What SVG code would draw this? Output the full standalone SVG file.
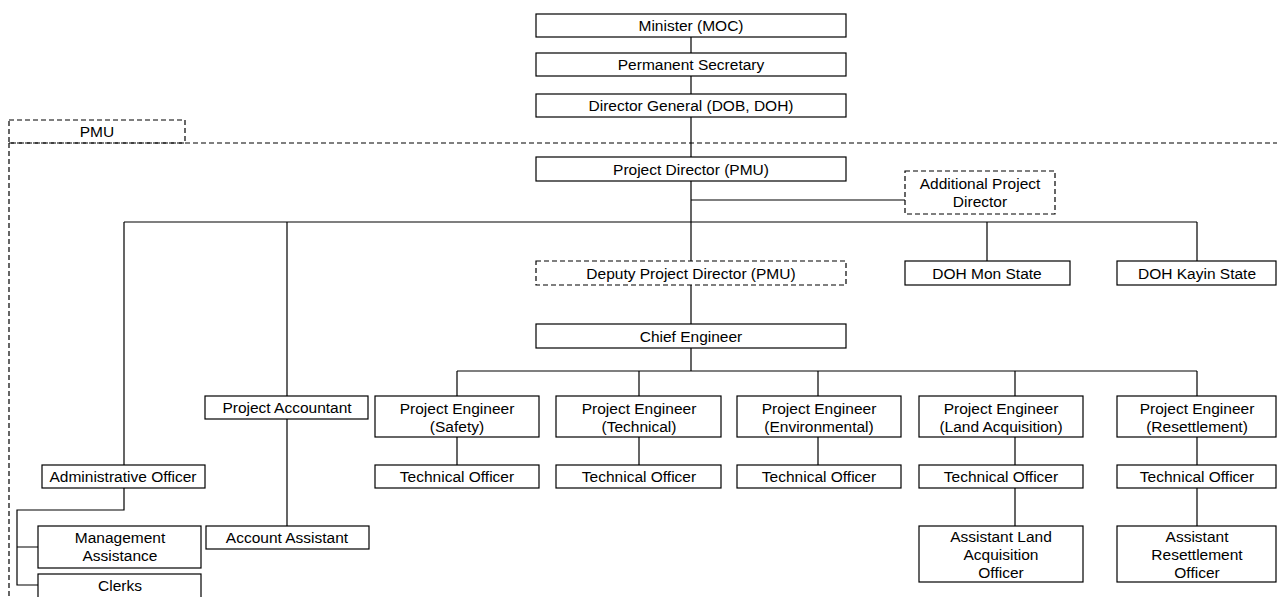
<svg xmlns="http://www.w3.org/2000/svg" width="1277" height="597" viewBox="0 0 1277 597">
<style>
.b{fill:#fff;stroke:#000;stroke-width:1.2}
.d{fill:#fff;stroke:#000;stroke-width:1.2;stroke-dasharray:5,3}
.t{font-family:"Liberation Sans",Arial,sans-serif;font-size:15.5px;fill:#000;text-anchor:middle}
.c{fill:none;stroke:#000;stroke-width:1.2}
.pd{fill:none;stroke:#000;stroke-width:1.2;stroke-dasharray:5,3}
</style>
<rect width="1277" height="597" fill="#fff"/>
<g id="pmu-frame">
<rect class="pd" x="9" y="120" width="176" height="23"/>
<path class="pd" d="M9 143 H1277 M9 143 V597"/>
<text class="t" x="97" y="137">PMU</text>
</g>
<g id="connectors">
<path class="c" d="M691 37 V53 M691 76 V94 M691 117 V157 M691 181 V261 M691 200 H905 M124 222 H1197 M124 222 V465 M287 222 V396 M987 222 V261 M1197 222 V261 M691 285 V324 M691 348 V371 M457 371 H1197 M457 371 V396 M639 371 V396 M818 371 V396 M1015 371 V396 M1197 371 V396 M457 437 V465 M639 437 V465 M818 437 V465 M1015 437 V465 M1197 437 V465 M1015 488 V526 M1197 488 V526 M287 419 V526 M124 488 V510 H17 V585 H38 M17 547 H38"/>
</g>
<g id="minister"><rect class="b" x="536" y="14" width="310" height="23"/><text class="t" x="691" y="31">Minister (MOC)</text></g>
<g id="perm-sec"><rect class="b" x="536" y="53" width="310" height="23"/><text class="t" x="691" y="70">Permanent Secretary</text></g>
<g id="dg"><rect class="b" x="536" y="94" width="310" height="23"/><text class="t" x="691" y="111">Director General (DOB, DOH)</text></g>
<g id="pd"><rect class="b" x="536" y="157" width="310" height="24"/><text class="t" x="691" y="175">Project Director (PMU)</text></g>
<g id="apd"><rect class="d" x="905" y="171" width="150" height="43"/><text class="t" x="980" y="189">Additional Project</text><text class="t" x="980" y="207">Director</text></g>
<g id="dpd"><rect class="d" x="536" y="261" width="310" height="24"/><text class="t" x="691" y="279">Deputy Project Director (PMU)</text></g>
<g id="doh-mon"><rect class="b" x="905" y="261" width="165" height="24"/><text class="t" x="987" y="279">DOH Mon State</text></g>
<g id="doh-kayin"><rect class="b" x="1117" y="261" width="159" height="24"/><text class="t" x="1197" y="279">DOH Kayin State</text></g>
<g id="chief"><rect class="b" x="536" y="324" width="310" height="24"/><text class="t" x="691" y="342">Chief Engineer</text></g>
<g id="pa"><rect class="b" x="205" y="396" width="163" height="23"/><text class="t" x="287" y="413">Project Accountant</text></g>
<g id="aa"><rect class="b" x="206" y="526" width="163" height="23"/><text class="t" x="287" y="543">Account Assistant</text></g>
<g id="ao"><rect class="b" x="42" y="465" width="163" height="23"/><text class="t" x="123" y="482">Administrative Officer</text></g>
<g id="ma"><rect class="b" x="38" y="526" width="163" height="42"/><text class="t" x="120" y="543">Management</text><text class="t" x="120" y="561">Assistance</text></g>
<g id="clerks"><rect class="b" x="38" y="574" width="163" height="30"/><text class="t" x="120" y="591">Clerks</text></g>
<g id="pe-safety"><rect class="b" x="375" y="396" width="164" height="41"/><text class="t" x="457" y="414">Project Engineer</text><text class="t" x="457" y="432">(Safety)</text></g>
<g id="pe-tech"><rect class="b" x="556" y="396" width="165" height="41"/><text class="t" x="639" y="414">Project Engineer</text><text class="t" x="639" y="432">(Technical)</text></g>
<g id="pe-env"><rect class="b" x="737" y="396" width="164" height="41"/><text class="t" x="819" y="414">Project Engineer</text><text class="t" x="819" y="432">(Environmental)</text></g>
<g id="pe-land"><rect class="b" x="919" y="396" width="164" height="41"/><text class="t" x="1001" y="414">Project Engineer</text><text class="t" x="1001" y="432">(Land Acquisition)</text></g>
<g id="pe-res"><rect class="b" x="1117" y="396" width="159" height="41"/><text class="t" x="1197" y="414">Project Engineer</text><text class="t" x="1197" y="432">(Resettlement)</text></g>
<g id="to-safety"><rect class="b" x="375" y="465" width="164" height="23"/><text class="t" x="457" y="482">Technical Officer</text></g>
<g id="to-tech"><rect class="b" x="556" y="465" width="165" height="23"/><text class="t" x="639" y="482">Technical Officer</text></g>
<g id="to-env"><rect class="b" x="737" y="465" width="164" height="23"/><text class="t" x="819" y="482">Technical Officer</text></g>
<g id="to-land"><rect class="b" x="919" y="465" width="164" height="23"/><text class="t" x="1001" y="482">Technical Officer</text></g>
<g id="to-res"><rect class="b" x="1117" y="465" width="159" height="23"/><text class="t" x="1197" y="482">Technical Officer</text></g>
<g id="alao"><rect class="b" x="919" y="526" width="164" height="56"/><text class="t" x="1001" y="542">Assistant Land</text><text class="t" x="1001" y="560">Acquisition</text><text class="t" x="1001" y="578">Officer</text></g>
<g id="aro"><rect class="b" x="1117" y="526" width="159" height="56"/><text class="t" x="1197" y="542">Assistant</text><text class="t" x="1197" y="560">Resettlement</text><text class="t" x="1197" y="578">Officer</text></g>
</svg>
